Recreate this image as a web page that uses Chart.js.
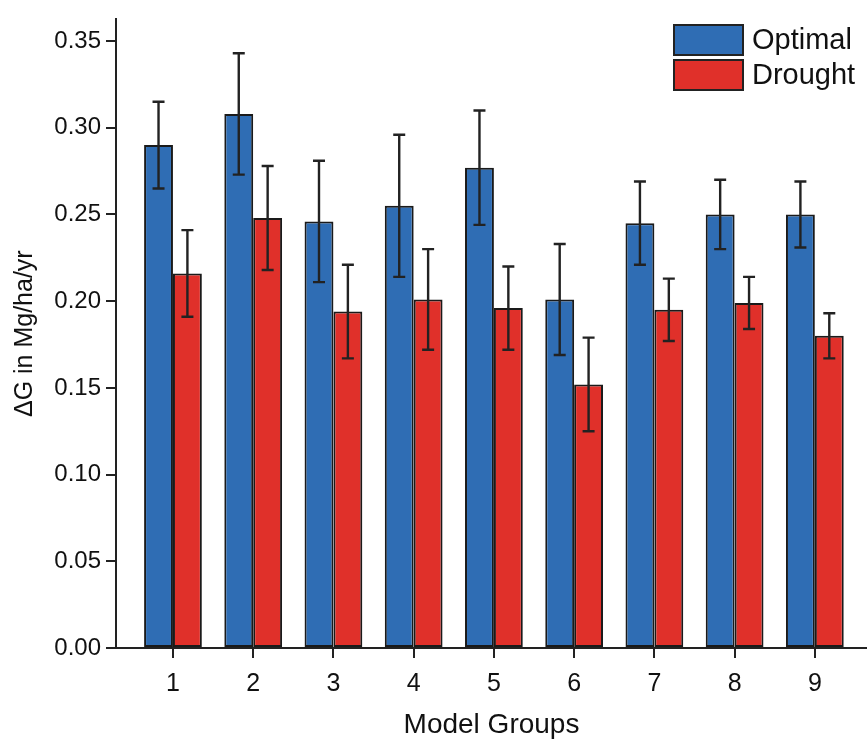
<!DOCTYPE html>
<html>
<head>
<meta charset="utf-8">
<script src="https://cdn.jsdelivr.net/npm/chart.js@4.4.0/dist/chart.umd.min.js"></script>
<style>
  html, body { margin: 0; padding: 0; background: #fff; }
  #wrap { width: 867px; height: 742px; }
</style>
</head>
<body>
<div id="wrap"><canvas id="chart" width="867" height="742"></canvas></div>
<script>
// model groups on the x axis
const groups = [1, 2, 3, 4, 5, 6, 7, 8, 9];

// mean growth and error (Mg/ha/yr)
const optimal    = [0.290, 0.308, 0.246, 0.255, 0.277, 0.201, 0.245, 0.250, 0.250];
const optimalErr = [0.025, 0.035, 0.035, 0.041, 0.033, 0.032, 0.024, 0.020, 0.019];
const drought    = [0.216, 0.248, 0.194, 0.201, 0.196, 0.152, 0.195, 0.199, 0.180];
const droughtErr = [0.025, 0.030, 0.027, 0.029, 0.024, 0.027, 0.018, 0.015, 0.013];

const yTicks = [0, 0.05, 0.10, 0.15, 0.20, 0.25, 0.30, 0.35];

const FONT = "'Liberation Sans', Arial, sans-serif";
const INK = '#222';

// error bars on top of each bar
const errorBars = {
    id: 'errorBars',
    afterDatasetsDraw(chart) {
        const ctx = chart.ctx;
        const y = chart.scales.y;
        ctx.save();
        ctx.strokeStyle = INK;
        ctx.lineWidth = 2.4;
        chart.data.datasets.forEach((ds, di) => {
            const meta = chart.getDatasetMeta(di);
            meta.data.forEach((bar, i) => {
                const v = ds.data[i].y, e = ds.err[i];
                const yt = y.getPixelForValue(v + e);
                const yb = y.getPixelForValue(v - e);
                ctx.beginPath();
                ctx.moveTo(bar.x, yt); ctx.lineTo(bar.x, yb);
                ctx.moveTo(bar.x - 6, yt); ctx.lineTo(bar.x + 6, yt);
                ctx.moveTo(bar.x - 6, yb); ctx.lineTo(bar.x + 6, yb);
                ctx.stroke();
            });
        });
        ctx.restore();
    }
};

// legend box in the top right corner
const cornerLegend = {
    id: 'cornerLegend',
    afterDraw(chart) {
        const ctx = chart.ctx;
        ctx.save();
        chart.data.datasets.forEach((ds, i) => {
            const bx = 674, by = 25 + i * 35;
            ctx.fillStyle = ds.backgroundColor;
            ctx.fillRect(bx, by, 69, 30);
            ctx.strokeStyle = INK;
            ctx.lineWidth = 2;
            ctx.strokeRect(bx, by, 69, 30);
            ctx.fillStyle = '#111';
            ctx.font = '29px ' + FONT;
            ctx.textBaseline = 'middle';
            ctx.fillText(ds.label, 752, by + 16);
        });
        ctx.restore();
    }
};

new Chart(document.getElementById('chart'), {
    type: 'bar',
    data: {
        datasets: [
            {label: 'Optimal', data: groups.map((g, i) => ({x: g, y: optimal[i]})), err: optimalErr,
             backgroundColor: '#2f6db4', borderColor: '#1a1a1a', borderWidth: 2, borderSkipped: false},
            {label: 'Drought', data: groups.map((g, i) => ({x: g, y: drought[i]})), err: droughtErr,
             backgroundColor: '#e0302a', borderColor: '#1a1a1a', borderWidth: 2, borderSkipped: false}
        ]
    },
    options: {
        responsive: false,
        animation: false,
        categoryPercentage: 0.72,
        barPercentage: 1,
        layout: {padding: {top: 8, right: 0, left: 0, bottom: 0}},
        plugins: {legend: {display: false}, tooltip: {enabled: false}},
        scales: {
            x: {
                type: 'linear',
                offset: false,
                min: 0.29, max: 9.65,
                afterFit: s => { s.height = 94; },
                afterBuildTicks: s => { s.ticks = groups.map(v => ({value: v})); },
                ticks: {
                    callback: v => String(v),
                    font: {family: FONT, size: 25}, color: '#111', padding: 11
                },
                grid: {display: true, offset: false, drawOnChartArea: false, drawTicks: true, tickLength: 10, color: INK, lineWidth: 2},
                border: {display: true, color: INK, width: 2},
                title: {display: true, text: 'Model Groups', font: {family: FONT, size: 28}, color: '#111', padding: 0}
            },
            y: {
                min: 0, max: 0.3625,
                afterFit: s => { s.width = 116; },
                afterBuildTicks: s => { s.ticks = yTicks.map(v => ({value: v})); },
                ticks: {
                    callback: v => v.toFixed(2),
                    font: {family: FONT, size: 24}, color: '#111', padding: 5
                },
                grid: {display: true, drawOnChartArea: false, drawTicks: true, tickLength: 10, color: INK, lineWidth: 2},
                border: {display: true, color: INK, width: 2},
                title: {display: true, text: 'ΔG in Mg/ha/yr', font: {family: FONT, size: 25}, color: '#111', padding: {top: 10, bottom: 0}}
            }
        }
    },
    plugins: [errorBars, cornerLegend]
});
</script>
</body>
</html>
